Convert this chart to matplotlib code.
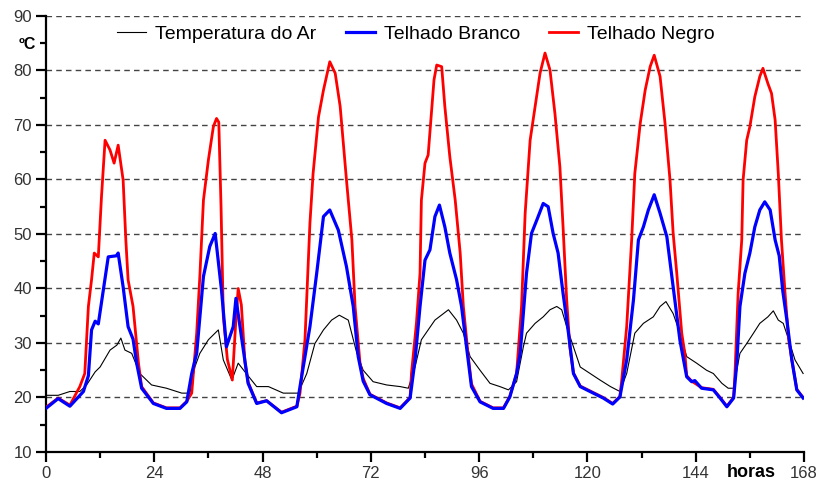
import numpy as np
import matplotlib
matplotlib.use("Agg")
import matplotlib.pyplot as plt
from matplotlib.ticker import MultipleLocator
from matplotlib.transforms import blended_transform_factory

plt.rcParams['font.family'] = ['Liberation Sans', 'DejaVu Sans']

# Temperatura do Ar
t_ar = [0, 2.7, 5.3, 7.5, 9.0, 10.9, 12.0, 14.2, 15.7, 16.6, 17.5, 19.0, 20.8, 23.4, 26.7, 30.1, 31.9,
        33.0, 34.1, 36.0, 38.2, 39.3, 41.2, 42.6, 44.1, 46.7, 49.3, 52.6, 55.9, 57.8, 59.6, 61.5, 63.3,
        65.0, 67.0, 68.9, 70.3, 72.5, 75.5, 78.5, 80.3, 81.8, 83.2, 84.7, 86.2, 88.1, 89.2, 91.0, 92.5,
        94.0, 96.2, 98.4, 100.6, 102.5, 104.3, 105.8, 106.5, 108.4, 110.2, 111.7, 113.2, 114.3, 115.4,
        116.9, 118.4, 120.6, 122.8, 125.1, 127.2, 128.7, 130.5, 132.4, 134.6, 136.1, 137.4, 139.0,
        140.5, 142.0, 144.2, 146.4, 147.9, 149.8, 151.2, 152.4, 153.1, 153.8, 155.3, 156.8, 158.2,
        160.0, 161.2, 162.3, 163.4, 164.6, 166.0, 167.8]
v_ar = [20.4, 20.4, 21.1, 21.1, 22.3, 24.7, 25.6, 28.7, 29.6, 30.9, 28.7, 28.1, 24.4, 22.3, 21.7, 20.8, 20.8,
        25.6, 28.1, 30.6, 32.4, 26.9, 23.2, 26.3, 24.7, 22.0, 22.0, 20.8, 20.8, 24.4, 29.9, 32.4, 34.2,
        35.1, 34.2, 28.1, 25.0, 22.9, 22.3, 22.0, 21.7, 25.6, 30.6, 32.4, 34.2, 35.4, 36.1, 34.2, 31.8,
        27.5, 25.0, 22.6, 22.0, 21.4, 22.9, 29.3, 31.8, 33.6, 34.8, 36.1, 36.7, 36.1, 33.0,
        29.3, 25.6, 24.4, 23.2, 22.0, 21.1, 24.4, 31.8, 33.6, 34.8, 36.7, 37.6, 35.4,
        31.8, 27.5, 26.3, 25.0, 24.4, 22.6, 21.7, 21.7, 25.0, 28.1, 29.9, 31.8, 33.6,
        34.8, 35.9, 34.2, 33.6, 30.6, 26.9, 24.4]

# Telhado Branco
t_branco = [0, 2.7, 5.3, 8.3, 9.4, 10.1, 10.9, 11.6, 13.8, 15.6, 16.0, 17.1, 18.2, 19.3, 20.1, 21.2, 23.8,
            26.7, 29.7, 31.2, 32.3, 33.4, 34.9, 36.3, 37.5, 38.9, 40.0, 41.5, 42.1, 43.0, 44.8, 46.7, 48.9,
            52.2, 55.6, 56.3, 58.5, 60.0, 61.5, 62.9, 64.8, 66.6, 68.1, 69.2, 70.3, 71.8, 75.5, 78.5, 80.7,
            81.8, 82.9, 84.0, 85.1, 86.2, 87.2, 88.4, 89.5, 91.0, 92.1, 93.2, 94.3, 96.2, 99.1, 101.4, 102.8,
            104.3, 105.1, 106.5, 107.6, 108.8, 110.2, 111.3, 112.4, 113.5, 114.6, 115.8, 116.9, 118.4, 121.3,
            123.5, 125.6, 127.2, 128.7, 130.2, 131.3, 132.4, 133.5, 134.8, 136.1, 137.6, 139.0, 140.5, 142.0,
            143.1, 143.8, 145.3, 147.9, 149.4, 150.9, 152.4, 153.1, 153.8, 154.9, 156.0, 157.1, 158.2, 159.3,
            160.5, 161.6, 162.5, 163.3, 164.2, 165.3, 166.4, 167.8]
v_branco = [18.0, 19.8, 18.4, 21.1, 24.0, 32.4, 34.0, 33.5, 45.8, 46.0, 46.5, 40.3, 33.0, 30.7, 26.3, 21.7, 18.9,
            18.0, 18.0, 19.2, 24.4, 28.1, 42.2, 47.7, 50.1, 39.7, 29.3, 33.0, 38.2, 33.0, 22.6, 18.9, 19.4,
            17.2, 18.3, 22.0, 33.0, 42.8, 53.2, 54.4, 50.7, 44.0, 36.7, 27.5, 23.0, 20.5, 18.9, 18.0, 19.9,
            26.9, 36.7, 45.2, 47.1, 53.2, 55.3, 51.3, 46.5, 41.6, 36.7, 29.3, 22.0, 19.2, 18.0, 18.0, 20.1,
            24.4, 28.1, 42.8, 50.1, 52.6, 55.6, 55.0, 50.1, 46.5, 39.1, 31.8, 24.4, 22.0, 20.8,
            19.9, 18.8, 20.1, 26.9, 37.9, 48.9, 51.3, 54.4, 57.2, 53.8, 49.5, 40.3, 30.5, 23.8,
            22.9, 23.1, 21.7, 21.4, 19.9, 18.3, 19.9, 26.3, 36.7, 42.8, 46.5, 51.3, 54.4, 55.9,
            54.4, 48.9, 46.0, 39.5, 34.2, 26.9, 21.4, 19.9]

# Telhado Negro
t_negro = [0, 2.7, 5.3, 7.5, 8.6, 9.4, 10.1, 10.7, 11.6, 12.3, 13.1, 14.2, 15.1, 16.0, 17.1, 17.7, 18.2, 19.3,
           20.5, 21.2, 23.8, 26.7, 29.7, 31.2, 32.3, 33.4, 34.1, 34.9, 36.0, 37.1, 37.8, 38.3, 38.8, 39.3,
           40.2, 41.3, 42.0, 42.6, 43.3, 44.1, 44.8, 46.7, 48.9, 52.2, 55.6, 56.3, 57.4, 58.5, 59.2, 60.4,
           61.5, 62.9, 64.1, 65.2, 66.6, 67.8, 68.5, 69.6, 70.3, 71.8, 75.5, 78.5, 80.7, 81.0, 82.1, 82.9,
           83.2, 84.0, 84.7, 85.3, 86.0, 86.6, 87.7, 88.4, 89.5, 90.7, 91.8, 92.5, 93.6, 94.3, 96.2, 99.1,
           101.4, 102.8, 104.3, 105.4, 106.2, 107.3, 108.4, 109.5, 110.6, 111.7, 112.8, 113.9, 114.6, 115.4,
           116.1, 116.9, 118.4, 121.3, 123.5, 125.6, 127.2, 127.6, 128.7, 129.8, 130.5, 131.7, 132.8, 133.9,
           134.8, 136.1, 137.2, 138.3, 139.0, 139.8, 140.9, 141.6, 142.0, 143.1, 145.3, 147.9, 149.4, 150.9,
           152.4, 152.7, 153.4, 154.2, 154.5, 155.3, 156.0, 157.1, 158.2, 158.9, 160.0, 160.8, 161.6, 162.3,
           163.0, 163.8, 164.6, 165.3, 166.4, 167.8]
v_negro = [18.2, 19.9, 18.6, 22.0, 24.4, 36.7, 41.6, 46.5, 45.8, 56.8, 67.2, 65.4, 63.0, 66.3, 59.9, 48.9, 41.6, 36.7,
           26.3, 22.0, 19.0, 18.1, 18.1, 19.3, 20.8, 31.8, 42.2, 56.2, 63.6, 69.7, 71.2, 70.5, 55.0, 35.0,
           27.0, 23.2, 33.0, 40.0, 37.0, 26.5, 22.8, 19.0, 19.4, 17.3, 18.4, 20.8, 30.6, 52.0, 61.1, 71.5,
           76.4, 81.6, 79.5, 73.4, 59.9, 48.9, 36.7, 26.3, 23.5, 20.6, 19.0, 18.1, 20.0, 24.4, 33.6, 42.8,
           56.2, 63.0, 64.5, 70.9, 78.3, 81.0, 80.7, 73.4, 64.2, 56.2, 46.5, 36.7, 27.5, 22.5, 19.3, 18.1,
           18.1, 20.2, 24.4, 36.7, 53.8, 67.2, 73.4, 79.5, 83.2, 80.1, 72.1, 62.3, 51.3, 37.9,
           29.3, 24.5, 22.1, 20.9, 20.0, 18.9, 20.2, 23.2, 33.0, 48.9, 61.1, 70.3, 76.4, 80.7,
           82.8, 78.9, 70.3, 59.9, 50.1, 42.8, 31.8, 28.0, 24.0, 23.0, 21.8, 21.5, 20.0, 18.4,
           20.0, 24.4, 39.1, 48.9, 59.9, 67.2, 69.7, 75.2, 78.9, 80.4, 77.6, 75.8, 70.9, 61.1,
           48.9, 39.1, 30.6, 26.9, 21.5, 20.0]

x_ticks = [0, 24, 48, 72, 96, 120, 144, 168]
x_labels = ['0', '24', '48', '72', '96', '120', '144', '168']
y_ticks = [10, 20, 30, 40, 50, 60, 70, 80, 90]

fig = plt.figure(figsize=(8.18, 4.83), dpi=100)
ax = fig.add_axes([0.0562, 0.0642, 0.9267, 0.9027])

l_ar, = ax.plot(t_ar, v_ar, color='black', lw=0.8, zorder=3)
l_negro, = ax.plot(t_negro, v_negro, color='#ff0000', lw=2.0, zorder=4)
l_branco, = ax.plot(t_branco, v_branco, color='#0000ff', lw=2.3, zorder=5)

ax.set_xlim(0, 168)
ax.set_ylim(10, 90)

# grelha tracejada horizontal
for y in y_ticks[1:]:
    ax.axhline(y, color='#444444', lw=1.0, ls=(0, (4, 3)), zorder=1)

ax.set_xticks(x_ticks)
ax.set_xticklabels(x_labels)
ax.set_yticks(y_ticks)
ax.xaxis.set_minor_locator(MultipleLocator(12))
ax.yaxis.set_minor_locator(MultipleLocator(5))
ax.tick_params(which='major', length=7, width=1.6, labelsize=12, labelcolor='#333333', pad=3)
ax.tick_params(which='minor', length=4, width=1.6)

for s in ['top', 'right']:
    ax.spines[s].set_visible(False)
for s in ['left', 'bottom']:
    ax.spines[s].set_linewidth(1.6)

trans = blended_transform_factory(ax.transAxes, ax.transData)
ax.text(-0.025, 84.7, 'ºC', transform=trans, ha='center', va='center', fontsize=11.5, fontweight='bold')
ax.text(156.3, -0.047, 'horas', transform=ax.get_xaxis_transform(), ha='center', va='center',
        fontsize=13, fontweight='bold')

ax.legend([l_ar, l_branco, l_negro], ['Temperatura do Ar', 'Telhado Branco', 'Telhado Negro'],
          loc='center', bbox_to_anchor=(0.488, 0.959), ncol=3, frameon=False, fontsize=14,
          handlelength=1.5, handletextpad=0.45, columnspacing=1.5)

plt.savefig('out.png', dpi=100)
